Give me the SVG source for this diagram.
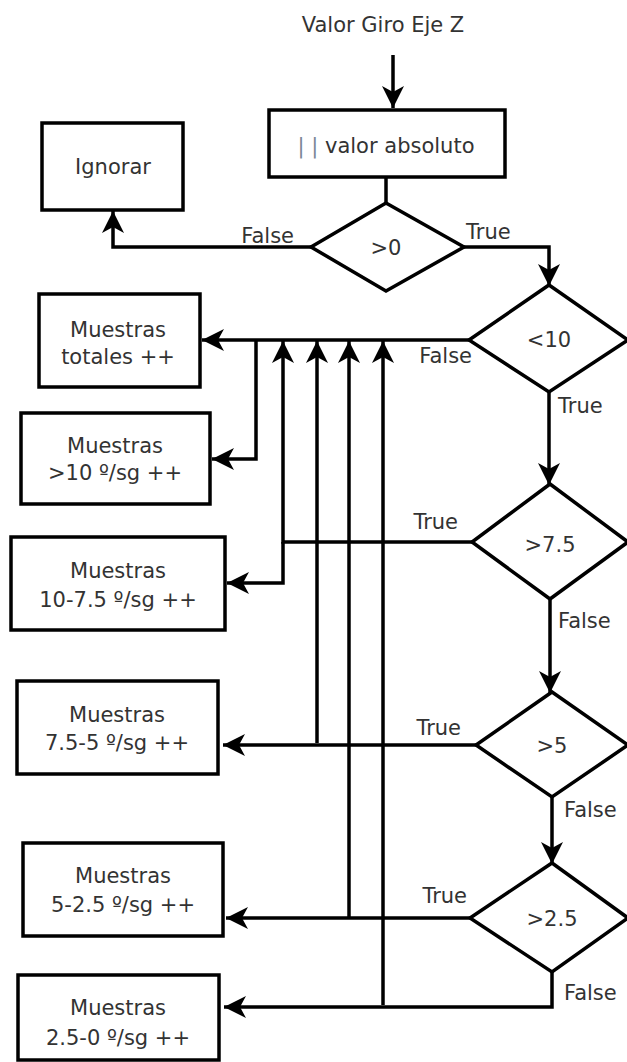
<svg xmlns="http://www.w3.org/2000/svg" width="627" height="1062" viewBox="0 0 627 1062">
  <style>
    .box { fill: #fff; stroke: #000; stroke-width: 3.5; }
    .dia { fill: #fff; stroke: #000; stroke-width: 3.5; stroke-linejoin: miter; }
    .con { fill: none; stroke: #000; stroke-width: 3.5; }
    .arr { marker-end: url(#head); }
    text { font-family: "DejaVu Sans", "Liberation Sans", sans-serif; font-size: 21px; fill: #333; }
    .c { text-anchor: middle; }
    .bar { fill: #7a8696; }
  </style>
  <defs>
    <!-- notched arrowhead, tip at the path end -->
    <marker id="head" markerUnits="userSpaceOnUse" markerWidth="24" markerHeight="24" refX="22" refY="11" orient="auto">
      <path d="M0,0 L22,11 L0,22 L6,11 Z" fill="#000"/>
    </marker>
  </defs>
  <rect width="627" height="1062" fill="#fff"/>

  <!-- connectors -->
  <g id="connectors">
    <path class="con arr" d="M393,55 V108"/>
    <path class="con" d="M386,177 V204"/>
    <path class="con arr" d="M311,247 H113 V211"/>
    <path class="con arr" d="M464,247 H549 V286"/>
    <path class="con arr" d="M469,340 H202"/>
    <path class="con arr" d="M256,340 V459 H212"/>
    <path class="con arr" d="M472,542 H283 V341"/>
    <path class="con arr" d="M283,542 V583 H227"/>
    <path class="con arr" d="M317,743 V341"/>
    <path class="con arr" d="M476,745 H223"/>
    <path class="con arr" d="M349,918 V341"/>
    <path class="con arr" d="M470,918 H226"/>
    <path class="con arr" d="M383,1005 V341"/>
    <path class="con arr" d="M552,972 V1007 H224"/>
    <path class="con arr" d="M549,392 V485"/>
    <path class="con arr" d="M550,599 V693"/>
    <path class="con arr" d="M552,797 V864"/>
  </g>

  <!-- edge labels -->
  <g id="labels">
    <text x="294" y="243" text-anchor="end">False</text>
    <text x="466" y="239">True</text>
    <text x="472" y="363" text-anchor="end">False</text>
    <text x="558" y="413">True</text>
    <text x="458" y="529" text-anchor="end">True</text>
    <text x="558" y="628">False</text>
    <text x="461" y="735" text-anchor="end">True</text>
    <text x="564" y="817">False</text>
    <text x="467" y="903" text-anchor="end">True</text>
    <text x="564" y="1000">False</text>
  </g>

  <text id="input" class="c" x="383" y="32">Valor Giro Eje Z</text>

  <g id="abs">
    <rect class="box" x="269" y="110" width="236" height="67"/>
    <text class="c" x="386" y="153"><tspan class="bar">| |</tspan> valor absoluto</text>
  </g>

  <g id="ignorar">
    <rect class="box" x="42" y="123" width="141" height="87"/>
    <text class="c" x="113" y="174">Ignorar</text>
  </g>

  <g id="d-gt0">
    <polygon class="dia" points="386,203 464,247 386,291 311,247"/>
    <text class="c" x="386" y="255">&gt;0</text>
  </g>

  <g id="d-lt10">
    <polygon class="dia" points="549,285 628,340 549,392 469,340"/>
    <text class="c" x="549" y="347">&lt;10</text>
  </g>

  <g id="d-gt75">
    <polygon class="dia" points="550,484 628,542 550,599 472,542"/>
    <text class="c" x="550" y="552">&gt;7.5</text>
  </g>

  <g id="d-gt5">
    <polygon class="dia" points="552,692 628,745 552,797 476,745"/>
    <text class="c" x="552" y="753">&gt;5</text>
  </g>

  <g id="d-gt25">
    <polygon class="dia" points="552,863 628,918 552,972 470,918"/>
    <text class="c" x="552" y="926">&gt;2.5</text>
  </g>

  <g id="m-total">
    <rect class="box" x="39" y="294" width="161" height="93"/>
    <text class="c" x="118" y="337">Muestras</text>
    <text class="c" x="118" y="364">totales ++</text>
  </g>

  <g id="m-10">
    <rect class="box" x="21" y="413" width="189" height="91"/>
    <text class="c" x="115" y="453">Muestras</text>
    <text class="c" x="115" y="480">&gt;10 º/sg ++</text>
  </g>

  <g id="m-10-75">
    <rect class="box" x="11" y="537" width="214" height="93"/>
    <text class="c" x="118" y="578">Muestras</text>
    <text class="c" x="118" y="607">10-7.5 º/sg ++</text>
  </g>

  <g id="m-75-5">
    <rect class="box" x="17" y="681" width="201" height="93"/>
    <text class="c" x="117" y="722">Muestras</text>
    <text class="c" x="117" y="750">7.5-5 º/sg ++</text>
  </g>

  <g id="m-5-25">
    <rect class="box" x="23" y="843" width="200" height="93"/>
    <text class="c" x="123" y="883">Muestras</text>
    <text class="c" x="123" y="912">5-2.5 º/sg ++</text>
  </g>

  <g id="m-25-0">
    <rect class="box" x="18" y="975" width="201" height="85"/>
    <text class="c" x="118" y="1015">Muestras</text>
    <text class="c" x="118" y="1045">2.5-0 º/sg ++</text>
  </g>
</svg>
